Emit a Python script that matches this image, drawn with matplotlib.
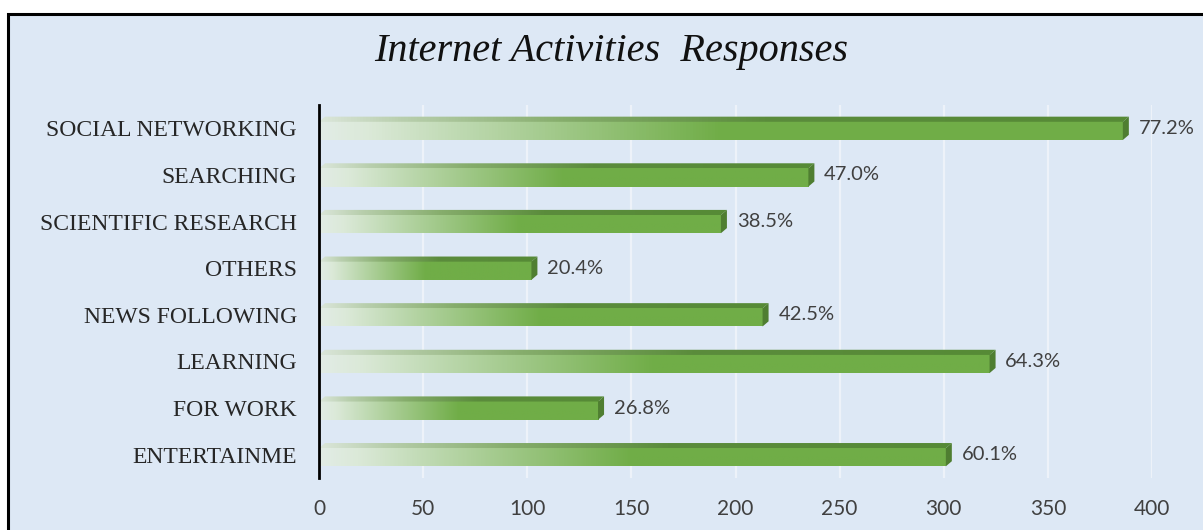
import numpy as np
import matplotlib
matplotlib.use("Agg")
import matplotlib.pyplot as plt
from matplotlib.patches import Polygon, Rectangle
from matplotlib.colors import LinearSegmentedColormap

# ==================================================
# DATA
# ==================================================
categories = ["SOCIAL NETWORKING", "SEARCHING", "SCIENTIFIC RESEARCH", "OTHERS",
              "NEWS FOLLOWING", "LEARNING", "FOR WORK", "ENTERTAINME"]
counts = [386, 235, 193, 102, 213, 322, 134, 301]
pct_labels = ["77.2%", "47.0%", "38.5%", "20.4%", "42.5%", "64.3%", "26.8%", "60.1%"]
x_ticks = [0, 50, 100, 150, 200, 250, 300, 350, 400]

BG = "#dde8f5"
GREEN = "#70ad47"

# ==================================================
# FIGURE
# ==================================================
W, H = 1203, 530
fig = plt.figure(figsize=(W / 100, H / 100), dpi=100)
fig.patch.set_facecolor("white")

# light blue chart area with black frame (cut at right/bottom)
fig.patches.append(Rectangle((8 / W, -0.05), 1.1, (H - 14) / H + 0.05,
                             transform=fig.transFigure, facecolor=BG,
                             edgecolor="black", linewidth=2.2, zorder=-1))

ax = fig.add_axes([319 / W, 1 - 478 / H, (1152 - 319) / W, (478 - 105) / H])
ax.set_facecolor("none")

front_cmap = LinearSegmentedColormap.from_list(
    "front", [(0.0, "#e2ece6"), (0.06, "#dbe9d8"), (0.22, "#b3d3a2"),
              (0.5, GREEN), (1.0, GREEN)])
top_cmap = LinearSegmentedColormap.from_list(
    "top", [(0.0, "#dbe6da"), (0.1, "#b9cfae"), (0.3, "#86ad6c"),
            (0.55, "#5b8c3c"), (1.0, "#568a36")])

grad = np.linspace(0, 1, 256).reshape(1, -1)
px = 400 / (1152 - 319)          # data units per pixel in x
dx = 6 * px                      # depth of the 3D side
y_top, y_mid, y_bot = -0.25, -0.14, 0.25

for i, (v, lab) in enumerate(zip(counts, pct_labels)):
    # front face
    ax.imshow(grad, cmap=front_cmap, aspect="auto",
              extent=(0, v, i + y_bot, i + y_mid), zorder=3)
    # top face
    top_poly = Polygon([(0, i + y_mid), (v, i + y_mid), (v + dx, i + y_top), (dx, i + y_top)],
                       closed=True, facecolor="none", edgecolor="none")
    ax.add_patch(top_poly)
    im = ax.imshow(grad, cmap=top_cmap, aspect="auto",
                   extent=(0, v + dx, i + y_mid, i + y_top), zorder=3)
    im.set_clip_path(top_poly)
    # side face
    ax.add_patch(Polygon([(v, i + y_mid), (v + dx, i + y_top), (v + dx, i + y_bot - 0.11),
                          (v, i + y_bot)], closed=True, facecolor="#4f7e31",
                         edgecolor="none", zorder=3))
    ax.annotate(lab, xy=(v + dx, i), xytext=(7, 0), textcoords="offset points",
                va="center", ha="left", fontsize=14.5, family="Lato",
                color="#404040", annotation_clip=False)

ax.set_xlim(0, 400)
ax.set_ylim(len(categories) - 0.5, -0.5)
ax.set_xticks(x_ticks)
ax.set_xticklabels([str(t) for t in x_ticks], family="Lato", fontsize=15, color="#404040")
ax.set_yticks(range(len(categories)))
ax.set_yticklabels(categories, family="Liberation Serif", fontsize=17, color="#262626")
ax.tick_params(axis="x", length=0, pad=15)
ax.tick_params(axis="y", length=0, pad=16)

ax.grid(axis="x", color="#edf2f9", linewidth=1.6, zorder=0)
ax.set_axisbelow(True)
for s in ["top", "right", "bottom"]:
    ax.spines[s].set_visible(False)
ax.spines["left"].set_color("black")
ax.spines["left"].set_linewidth(2)
ax.spines["left"].set_zorder(5)

fig.text(611 / W, 1 - 52 / H, "Internet Activities  Responses", ha="center", va="center",
         family="Liberation Serif", style="italic", fontsize=29, color="#111111")

plt.savefig("out.png", dpi=100)
plt.close()
